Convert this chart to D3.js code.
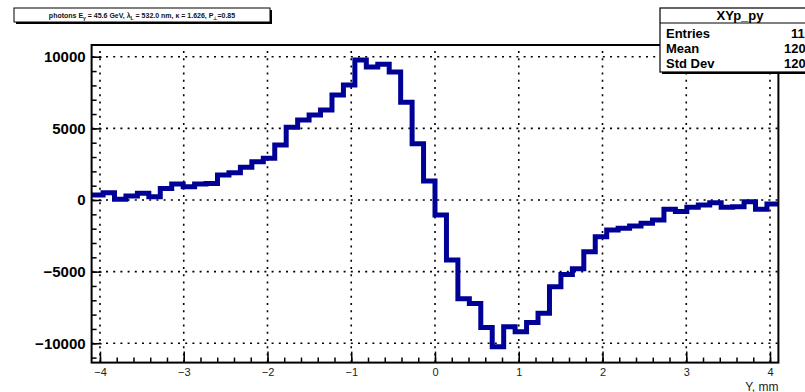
<!DOCTYPE html>
<html><head><meta charset="utf-8">
<script src="https://cdn.jsdelivr.net/npm/d3@7"></script>
<style>
body{margin:0;background:#fff}
svg{display:block;background:#fff}
text{font-family:"Liberation Sans",Arial,Helvetica,sans-serif}
</style>
</head><body>
<svg id="c" width="805" height="392"></svg>
<script>
// ---- data ----
const xRange = [-4.1, 4.1];
const nBins = 60;
const counts = [
  350, 510, 50, 280, 470, 230, 810, 1120, 930, 1120,
  1150, 1745, 1900, 2280, 2670, 2910, 3840, 5070, 5580, 5930,
  6280, 7330, 8030, 9770, 9280, 9470, 8930, 6820, 3920, 1330,
  -1050, -4190, -6900, -7230, -8900, -10250, -8840, -9190, -8550, -7910,
  -6050, -5200, -4800, -3610, -2560, -2090, -1980, -1810, -1630, -1400,
  -650, -810, -510, -350, -190, -510, -470, -120, -650, -280
];
const yRange = [-11350, 10820];
const xMajorTicks = [-4, -3, -2, -1, 0, 1, 2, 3, 4];
const xTickLabels = ["\u22124", "\u22123", "\u22122", "\u22121", "0", "1", "2", "3", "4"];
const xMinorTicks = d3.range(-40, 41, 2).map(v => v / 10);
const yMajorTicks = [-10000, -5000, 0, 5000, 10000];
const yTickLabels = ["\u221210000", "\u22125000", "0", "5000", "10000"];
const yMinorTicks = d3.range(-11000, 10001, 1000);
const xAxisTitle = "Y, mm";
const statsTitle = "XYp_py";
const statsNames = ["Entries", "Mean", "Std Dev"];
const statsValues = ["11", "120", "120"];

// ---- layout ----
const svg = d3.select("#c");
const fx0 = 91.6, fx1 = 778.4, fy0 = 45, fy1 = 362.6;
const x = d3.scaleLinear().domain(xRange).range([fx0, fx1]);
const y = d3.scaleLinear().domain(yRange).range([fy1, fy0]);
const bw = (xRange[1] - xRange[0]) / nBins;

svg.append("defs").append("clipPath").attr("id", "fr")
  .append("rect").attr("x", fx0).attr("y", fy0).attr("width", fx1 - fx0).attr("height", fy1 - fy0);

// grid
const grid = svg.append("g").attr("stroke", "#000").attr("stroke-width", 1.6)
  .attr("stroke-dasharray", "2,5.2");
grid.selectAll("line.gx").data(xMajorTicks).join("line").attr("class", "gx")
  .attr("x1", d => x(d)).attr("x2", d => x(d)).attr("y1", fy1).attr("y2", fy0);
grid.selectAll("line.gy").data(yMajorTicks).join("line").attr("class", "gy")
  .attr("y1", d => y(d)).attr("y2", d => y(d)).attr("x1", fx0).attr("x2", fx1);

// histogram
const pts = counts.map((c, i) => [xRange[0] + i * bw, c]);
pts.push([xRange[1], counts[counts.length - 1]]);
const line = d3.line().x(d => x(d[0])).y(d => y(d[1])).curve(d3.curveStepAfter);
svg.append("path").attr("clip-path", "url(#fr)")
  .attr("d", line(pts)).attr("fill", "none")
  .attr("stroke", "#000096").attr("stroke-width", 5).attr("stroke-linejoin", "miter");

// axes
const fmtX = d => xTickLabels[xMajorTicks.indexOf(d)];
const fmtY = d => yTickLabels[yMajorTicks.indexOf(d)];

svg.append("g").attr("transform", `translate(0,${fy1})`)
  .call(d3.axisBottom(x).tickValues(xMinorTicks).tickSizeInner(-5).tickSizeOuter(0).tickFormat(""));
const gx = svg.append("g").attr("transform", `translate(0,${fy1})`)
  .call(d3.axisBottom(x).tickValues(xMajorTicks).tickSizeInner(-11).tickSizeOuter(0).tickPadding(5.5).tickFormat(fmtX));
gx.selectAll("text").attr("font-size", 11).attr("fill", "#222");

svg.append("g").attr("transform", `translate(${fx0},0)`)
  .call(d3.axisLeft(y).tickValues(yMinorTicks).tickSizeInner(-5).tickSizeOuter(0).tickFormat(""));
const gy = svg.append("g").attr("transform", `translate(${fx0},0)`)
  .call(d3.axisLeft(y).tickValues(yMajorTicks).tickSizeInner(-10).tickSizeOuter(0).tickPadding(6).tickFormat(fmtY));
gy.selectAll("text").attr("font-size", 15).attr("font-weight", "bold").attr("fill", "#000");

svg.selectAll(".domain").remove();
svg.selectAll(".tick line").attr("stroke", "#000").attr("stroke-width", 1.5);

// frame
svg.append("rect").attr("x", fx0).attr("y", fy0).attr("width", fx1 - fx0).attr("height", fy1 - fy0)
  .attr("fill", "none").attr("stroke", "#000").attr("stroke-width", 2);

// x axis title
svg.append("text").attr("x", fx1).attr("y", 390.5).attr("text-anchor", "end")
  .attr("font-size", 12).attr("fill", "#222").text(xAxisTitle);

// title box
const tb = svg.append("g");
tb.append("rect").attr("x", 16).attr("y", 10).attr("width", 256).attr("height", 14).attr("fill", "#000");
tb.append("rect").attr("x", 14).attr("y", 8).attr("width", 256).attr("height", 14)
  .attr("fill", "#fff").attr("stroke", "#000").attr("stroke-width", 1);
const tt = tb.append("text").attr("x", 142).attr("y", 18).attr("text-anchor", "middle")
  .attr("font-size", 7).attr("font-weight", "bold").attr("fill", "#111");
const parts = [
  ["photons E", 0], ["\u03b3", 1], [" = 45.6 GeV, \u03bb", 0], ["L", 1],
  [" = 532.0 nm, \u03ba = 1.626, P", 0], ["\u22a5", 1], ["=0.85", 0]
];
let sub = false;
parts.forEach(([t, s]) => {
  const ts = tt.append("tspan").text(t);
  if (s) { ts.attr("font-size", 5).attr("dy", 1.6); sub = true; }
  else if (sub) { ts.attr("dy", -1.6); sub = false; }
});

// stats box
const sb = svg.append("g");
sb.append("rect").attr("x", 662).attr("y", 10).attr("width", 160).attr("height", 64).attr("fill", "#000");
sb.append("rect").attr("x", 660).attr("y", 8).attr("width", 160).attr("height", 64)
  .attr("fill", "#fff").attr("stroke", "#000").attr("stroke-width", 1.2);
sb.append("line").attr("x1", 660).attr("x2", 805).attr("y1", 23).attr("y2", 23)
  .attr("stroke", "#000").attr("stroke-width", 1.2);
sb.append("text").attr("x", 740).attr("y", 19.5).attr("text-anchor", "middle")
  .attr("font-size", 13).attr("font-weight", "bold").text(statsTitle);
const rowY = [38, 53, 68];
const valX = [791, 784, 784];
statsNames.forEach((n, i) => {
  sb.append("text").attr("x", 666).attr("y", rowY[i]).attr("font-size", 13).attr("font-weight", "bold").text(n);
  sb.append("text").attr("x", valX[i]).attr("y", rowY[i]).attr("font-size", 13).attr("font-weight", "bold").text(statsValues[i]);
});
</script>
</body></html>
